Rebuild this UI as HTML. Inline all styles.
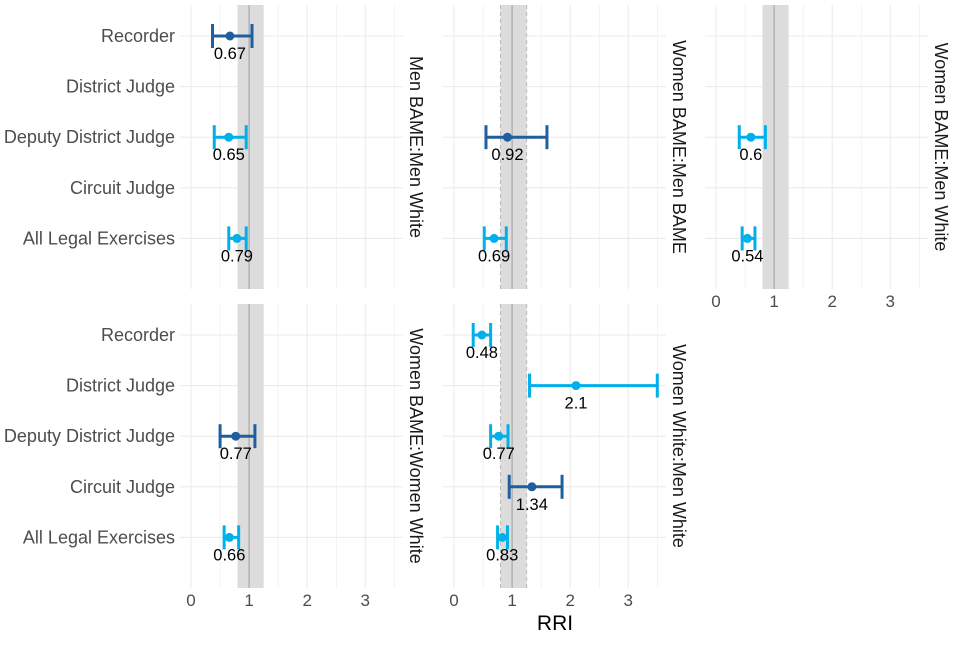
<!DOCTYPE html>
<html><head><meta charset="utf-8"><style>
body{margin:0;background:#fff;}
svg{font-family:"Liberation Sans",sans-serif;}
</style></head><body>
<svg id="c" width="960" height="640"></svg>
<script>
const categories=["Recorder","District Judge","Deputy District Judge","Circuit Judge","All Legal Exercises"];
const panelTitles=["Men BAME:Men White","Women BAME:Men BAME","Women BAME:Men White","Women BAME:Women White","Women White:Men White"];
const xTicks=[0,1,2,3];
// each panel: [categoryIndex, lo, est, hi, colorKey]
const p1=[[0,0.37,0.67,1.05,"d"],[2,0.4,0.65,0.95,"c"],[4,0.65,0.79,0.95,"c"]];
const p2=[[2,0.55,0.92,1.6,"d"],[4,0.52,0.69,0.9,"c"]];
const p3=[[2,0.4,0.6,0.85,"c"],[4,0.45,0.54,0.67,"c"]];
const p4=[[2,0.5,0.77,1.1,"d"],[4,0.57,0.66,0.82,"c"]];
const p5=[[0,0.33,0.48,0.63,"c"],[1,1.3,2.1,3.5,"c"],[2,0.63,0.77,0.93,"c"],[3,0.95,1.34,1.86,"d"],[4,0.75,0.83,0.92,"c"]];
const panelData=[p1,p2,p3,p4,p5];
const band=[0.8,1.25];
const colors={d:"#1f5f9e",c:"#00b0eb"};
const NS="http://www.w3.org/2000/svg";
const svg=document.getElementById("c");
function mk(tag,attrs,parent,name){const e=document.createElementNS(NS,tag);for(const k in attrs)e.setAttribute(k,attrs[k]);(parent||svg).appendChild(e);


return e;}
const xmin=-0.19,xmax=3.65;
const colLeft=[180,443,705],colW=223;
const rowTop=[5,304],rowH=284;
const pos=[[0,0],[0,1],[0,2],[1,0],[1,1]];
for(let p=0;p<5;p++){
  const [r,cI]=pos[p];const L=colLeft[cI],T=rowTop[r];
  const X=v=>L+(v-xmin)/(xmax-xmin)*colW;
  const Y=i=>T+31+i*50.6;
  const g=mk("g",{},svg,"panel-"+(p+1));
  for(let v=-0.5;v<=3.5;v+=0.5){if(v<xmin||v>xmax)continue;mk("line",{x1:X(v),x2:X(v),y1:T,y2:T+rowH,stroke:"#ebebeb","stroke-width":Number.isInteger(v)?1.1:0.6},g,"grid-x");}
  categories.forEach((c,i)=>mk("line",{x1:L,x2:L+colW,y1:Y(i),y2:Y(i),stroke:"#ebebeb","stroke-width":1.1},g,"grid-y"));
  mk("rect",{x:X(band[0]),y:T,width:X(band[1])-X(band[0]),height:rowH,fill:"#dcdcdc"},g,"equivalence-band");
  if(cI==1){band.forEach(b=>mk("line",{x1:X(b),x2:X(b),y1:T,y2:T+rowH,stroke:"#bbb","stroke-dasharray":"4,3"},g,"band-edge"));}
  mk("line",{x1:X(1),x2:X(1),y1:T,y2:T+rowH,stroke:"#a8a8a8","stroke-width":1.2},g,"reference-line");
  if(cI==0){categories.forEach((c,i)=>{const t=mk("text",{x:175,y:Y(i)+6,"text-anchor":"end","font-size":18,fill:"#4d4d4d"},g,"y-label");t.textContent=c;});}
  panelData[p].forEach(d=>{const [i,lo,est,hi,k]=d;const col=colors[k];const y=Y(i);
    const gg=mk("g",{},g,"error-bar");
    mk("line",{x1:X(lo),x2:X(hi),y1:y,y2:y,stroke:col,"stroke-width":3},gg,"ci-line");
    mk("line",{x1:X(lo),x2:X(lo),y1:y-12,y2:y+12,stroke:col,"stroke-width":3},gg,"ci-cap-low");
    mk("line",{x1:X(hi),x2:X(hi),y1:y-12,y2:y+12,stroke:col,"stroke-width":3},gg,"ci-cap-high");
    mk("circle",{cx:X(est),cy:y,r:4.5,fill:col},gg,"point-estimate");
    const t=mk("text",{x:X(est),y:y+23,"text-anchor":"middle","font-size":16.5,fill:"#000"},gg,"value-label");t.textContent=String(est);
  });
  const sx=L+colW+7,sy=T+rowH/2;
  const st=mk("text",{x:sx,y:sy,"text-anchor":"middle","font-size":18,fill:"#1a1a1a",transform:`rotate(90 ${sx} ${sy})`},g,"strip-label");st.textContent=panelTitles[p];
  if(r==1||cI==2){xTicks.forEach(v=>{const t=mk("text",{x:X(v),y:T+rowH+18,"text-anchor":"middle","font-size":17,fill:"#4d4d4d"},g,"x-tick-label");t.textContent=v;});}
}
const xt=mk("text",{x:555,y:630,"text-anchor":"middle","font-size":21,fill:"#000"},svg,"x-axis-title");xt.textContent="RRI";
</script>
</body></html>
